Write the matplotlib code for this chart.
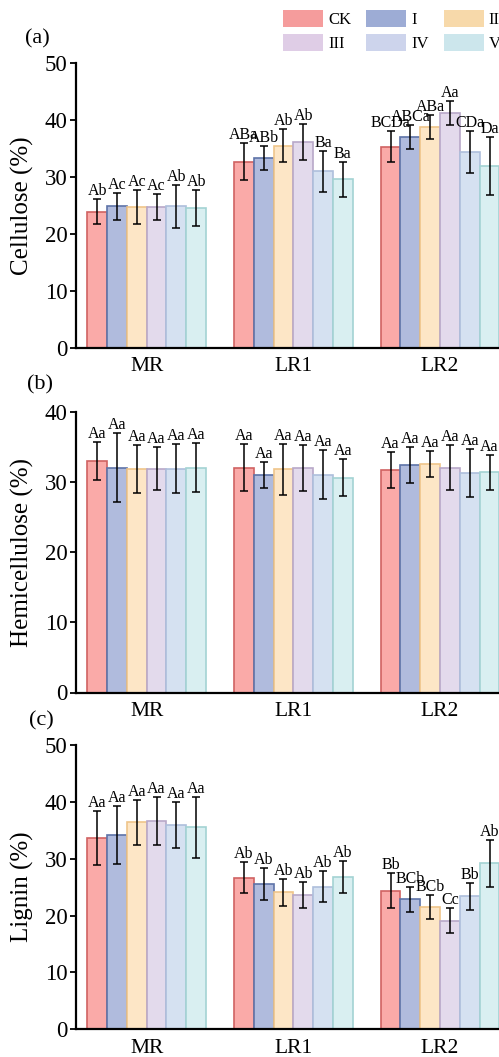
import numpy as np
import matplotlib
matplotlib.use("Agg")
import matplotlib.pyplot as plt
from matplotlib.patches import Patch

plt.rcParams["font.family"] = ["Liberation Serif", "DejaVu Serif"]

groups = ["MR", "LR1", "LR2"]
treatments = ["CK", "I", "II", "III", "IV", "V"]

# rows = MR, LR1, LR2 ; columns = CK, I, II, III, IV, V
cellulose_mean = [[23.9, 24.8, 24.7, 24.7, 24.8, 24.5],
                  [32.7, 33.3, 35.5, 36.1, 31.0, 29.6],
                  [35.3, 37.0, 38.8, 41.2, 34.3, 31.9]]
cellulose_sd = [[2.2, 2.35, 3.0, 2.35, 3.8, 3.2],
                [3.2, 2.1, 2.9, 3.2, 3.6, 3.1],
                [2.7, 2.15, 2.1, 2.15, 3.7, 5.1]]
cellulose_sig = [["Ab", "Ac", "Ac", "Ac", "Ab", "Ab"],
                 ["ABa", "ABb", "Ab", "Ab", "Ba", "Ba"],
                 ["BCDa", "ABCa", "ABa", "Aa", "CDa", "Da"]]

hemi_mean = [[33.0, 32.05, 31.8, 31.9, 31.9, 32.05],
             [32.05, 31.05, 31.8, 32.0, 31.05, 30.6],
             [31.7, 32.4, 32.5, 32.0, 31.25, 31.4]]
hemi_sd = [[2.75, 4.9, 3.4, 3.1, 3.45, 3.5],
           [3.3, 1.85, 3.6, 3.25, 3.5, 2.6],
           [2.6, 2.55, 1.85, 3.2, 3.4, 2.5]]
hemi_sig = [["Aa"] * 6, ["Aa"] * 6, ["Aa"] * 6]

lignin_mean = [[33.7, 34.15, 36.4, 36.6, 35.9, 35.55],
               [26.65, 25.5, 24.1, 23.6, 25.1, 26.8],
               [24.4, 22.9, 21.55, 19.1, 23.4, 29.2]]
lignin_sd = [[4.75, 5.1, 3.9, 4.2, 4.1, 5.35],
             [2.7, 2.8, 2.35, 2.35, 2.75, 2.75],
             [3.05, 2.2, 2.15, 2.25, 2.4, 4.1]]
lignin_sig = [["Aa"] * 6,
              ["Ab"] * 6,
              ["Bb", "BCb", "BCb", "Cc", "Bb", "Ab"]]

face_colors = ["#FAAAA8", "#B0BBDD", "#FDE6C6", "#E3DAEC", "#D5E1F1", "#D9EFF1"]
edge_colors = ["#D06262", "#5E73A8", "#EFC58A", "#B8A8C8", "#AEBFDC", "#A3D3D3"]
legend_colors = ["#F59C9C", "#9DACD5", "#F7D9AA", "#DFCDE6", "#CDD4EC", "#CCE6EC"]

W, H = 499, 1057
fig = plt.figure(figsize=(W / 100, H / 100), dpi=100)

left = 76 / W
width = (510.7 - 76) / W
# (top px, bottom px) of each panel
panels = [
    ("(a)", "Cellulose (%)", cellulose_mean, cellulose_sd, cellulose_sig, 50, 63.1, 347.6, (37.5, 39)),
    ("(b)", "Hemicellulose (%)", hemi_mean, hemi_sd, hemi_sig, 40, 411.7, 692.5, (40, 385)),
    ("(c)", "Lignin (%)", lignin_mean, lignin_sd, lignin_sig, 50, 745, 1029.3, (41, 721)),
]

bw = 0.135
x = np.arange(len(groups))

for tag, ylab, mean, sd, sig, ymax, top, bot, tagpos in panels:
    ax = fig.add_axes([left, 1 - bot / H, width, (bot - top) / H])
    mean = np.array(mean)
    sd = np.array(sd)
    for j, t in enumerate(treatments):
        xs = x + (j - 2.5) * bw
        ax.bar(xs, mean[:, j], width=bw, color=face_colors[j],
               edgecolor=edge_colors[j], linewidth=1.2, zorder=2)
        ax.errorbar(xs, mean[:, j], yerr=sd[:, j], fmt="none", ecolor="black",
                    elinewidth=1.1, capsize=2.8, capthick=1.1, zorder=3)
        for i in range(len(groups)):
            ax.annotate(sig[i][j], (xs[i], mean[i, j] + sd[i, j]),
                        xytext=(0, 0), textcoords="offset points",
                        ha="center", va="bottom", fontsize=11.5, zorder=4)
    ax.set_xlim(-0.482, 2.482)
    ax.set_ylim(0, ymax)
    ax.set_yticks(np.arange(0, ymax + 1, 10))
    ax.set_xticks(x)
    ax.set_xticklabels(groups)
    ax.tick_params(axis="x", length=0, pad=7, labelsize=15.5)
    ax.tick_params(axis="y", direction="out", length=4, width=1.3, pad=2, labelsize=16.5)
    for s in ["top", "right"]:
        ax.spines[s].set_visible(False)
    for s in ["left", "bottom"]:
        ax.spines[s].set_linewidth(1.6)
    ax.set_ylabel(ylab, fontsize=18)
    ax.yaxis.set_label_coords(-0.097, 0.5)
    fig.text(tagpos[0] / W, 1 - tagpos[1] / H, tag, ha="center", va="center", fontsize=16)

# legend fills column by column, so order as CK, III, I, IV, II, V
order = [0, 3, 1, 4, 2, 5]
handles = [Patch(facecolor=legend_colors[k], edgecolor="none") for k in order]
labels = [treatments[k] for k in order]
fig.legend(handles, labels, ncol=3, loc="upper left",
           bbox_to_anchor=(283 / W, 1 - 10 / H), frameon=False, fontsize=12,
           handlelength=2.4, handleheight=1.2, handletextpad=0.3,
           columnspacing=0.9, labelspacing=0.35, borderpad=0, borderaxespad=0)

fig.savefig("out.png", dpi=100)
